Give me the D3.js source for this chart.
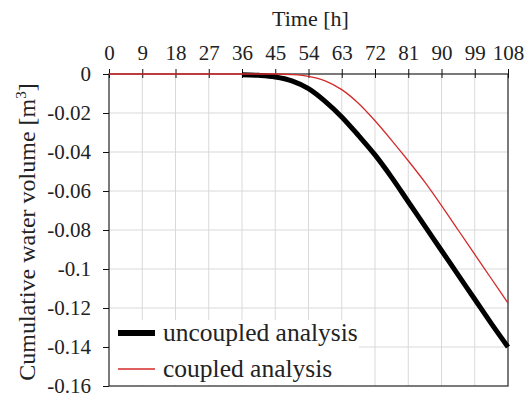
<!DOCTYPE html>
<html>
<head>
<meta charset="utf-8">
<script src="https://cdn.jsdelivr.net/npm/d3@7"></script>
<style>
  html, body { margin: 0; padding: 0; background: #fff; }
  svg { display: block; }
</style>
</head>
<body>
<div class="chart_wrapper"></div>
<script>
const serif = "'Liberation Serif'"

// time axis ticks [h]
const xTicks = [0, 9, 18, 27, 36, 45, 54, 63, 72, 81, 90, 99, 108]
const yTicks = [0, -0.02, -0.04, -0.06, -0.08, -0.1, -0.12, -0.14, -0.16]

// uncoupled analysis (starts at 36 h)
const uncoupledTime = [36, 40.5, 45, 49.5, 54, 58.5, 63, 67.5, 72, 76.5, 81, 85.5, 90, 94.5, 99, 103.5, 108]
const uncoupledVol = [-0.0004, -0.0007, -0.0015, -0.0035, -0.0075, -0.014, -0.022, -0.0315, -0.0415, -0.053, -0.0655, -0.078, -0.0905, -0.103, -0.1155, -0.128, -0.140]

// coupled analysis
const coupledTime = [0, 36, 45, 49.5, 54, 58.5, 63, 67.5, 72, 76.5, 81, 85.5, 90, 94.5, 99, 103.5, 108]
const coupledVol = [0, 0, 0, -0.0003, -0.0012, -0.0035, -0.008, -0.015, -0.024, -0.034, -0.0445, -0.0555, -0.0675, -0.080, -0.0925, -0.105, -0.1175]

const legendLabels = ["uncoupled analysis", "coupled analysis"]

const width = 531
const height = 394
const margin = { top: 74, right: 23, bottom: 8, left: 109 }

const svg = d3.select('.chart_wrapper')
    .append('svg')
    .attr('width', width)
    .attr('height', height)

const x = d3.scaleLinear()
    .domain([0, 108])
    .range([margin.left, width - margin.right])
const y = d3.scaleLinear()
    .domain([-0.16, 0])
    .range([height - margin.bottom, margin.top])

// grid
const grid = svg.append('g').attr('stroke', '#d9d9d9').attr('stroke-width', 1)
grid.selectAll('line.v')
    .data(xTicks.slice(1, -1))
    .join('line')
    .attr('class', 'v')
    .attr('x1', d => x(d)).attr('x2', d => x(d))
    .attr('y1', y(0)).attr('y2', y(-0.16))
grid.selectAll('line.h')
    .data(yTicks.slice(1, -1))
    .join('line')
    .attr('class', 'h')
    .attr('x1', x(0)).attr('x2', x(108))
    .attr('y1', d => y(d)).attr('y2', d => y(d))

// frame
svg.append('rect')
    .attr('x', x(0)).attr('y', y(0))
    .attr('width', x(108) - x(0)).attr('height', y(-0.16) - y(0))
    .attr('fill', 'none')
    .attr('stroke', '#333')
    .attr('stroke-width', 1.3)

// top axis
const xAxis = d3.axisTop(x)
    .tickValues(xTicks)
    .tickSize(5)
    .tickFormat(d3.format('d'))
const gx = svg.append('g')
    .attr('transform', `translate(0,${y(0)})`)
    .call(xAxis)
    .attr('font-family', null)
gx.select('.domain').remove()
gx.selectAll('.tick line').attr('stroke', '#111').attr('y1', -5).attr('y2', 4)
gx.selectAll('.tick text')
    .style('font-family', serif)
    .style('font-size', '21px')
    .attr('fill', '#222')
    .attr('dy', 0)
    .attr('y', -14)

// left axis
const yAxis = d3.axisLeft(y)
    .tickValues(yTicks)
    .tickSize(6)
    .tickPadding(12)
    .tickFormat(d => d === 0 ? '0' : String(d))
const gy = svg.append('g')
    .attr('transform', `translate(${x(0)},0)`)
    .call(yAxis)
    .attr('font-family', null)
gy.select('.domain').remove()
gy.selectAll('.tick line').attr('stroke', '#111')
gy.selectAll('.tick text')
    .style('font-family', serif)
    .style('font-size', '21px')
    .attr('fill', '#222')
    .attr('dy', '0.32em')

// axis titles
svg.append('text')
    .attr('x', (x(0) + x(108)) / 2 + 2)
    .attr('y', 26)
    .attr('text-anchor', 'middle')
    .style('font-family', serif)
    .style('font-size', '22px')
    .attr('fill', '#222')
    .text('Time [h]')

const yTitle = svg.append('text')
    .attr('transform', `translate(35,${(y(0) + y(-0.16)) / 2 + 2}) rotate(-90)`)
    .attr('text-anchor', 'middle')
    .style('font-family', serif)
    .style('font-size', '24px')
    .attr('fill', '#222')
yTitle.append('tspan').text('Cumulative water volume [m')
yTitle.append('tspan').style('font-size', '15px').attr('dy', -9).text('3')
yTitle.append('tspan').attr('dy', 9).text(']')

// lines
const line = d3.line()
    .x(d => x(d[0]))
    .y(d => y(d[1]))
    .curve(d3.curveMonotoneX)

svg.append('path')
    .datum(d3.zip(uncoupledTime, uncoupledVol))
    .attr('d', line)
    .attr('fill', 'none')
    .attr('stroke', '#000')
    .attr('stroke-width', 5)

svg.append('path')
    .datum(d3.zip(coupledTime, coupledVol))
    .attr('d', line)
    .attr('fill', 'none')
    .attr('stroke', '#d42a2a')
    .attr('stroke-width', 1.3)

// legend
const legend = svg.append('g')
legend.append('rect')
    .attr('x', x(0) + 1).attr('y', 320)
    .attr('width', 249).attr('height', y(-0.16) - 320 - 1)
    .attr('fill', '#fff')
const legendStyles = [{ color: '#000', w: 6 }, { color: '#d42a2a', w: 1.3 }]
legendLabels.forEach((lab, i) => {
    const ly = 333 + i * 36
    legend.append('line')
        .attr('x1', 118).attr('x2', 155)
        .attr('y1', ly).attr('y2', ly)
        .attr('stroke', legendStyles[i].color)
        .attr('stroke-width', legendStyles[i].w)
    legend.append('text')
        .attr('x', 163).attr('y', ly + 8)
        .style('font-family', serif)
        .style('font-size', '25.5px')
        .attr('fill', '#222')
        .text(lab)
})
</script>
</body>
</html>
